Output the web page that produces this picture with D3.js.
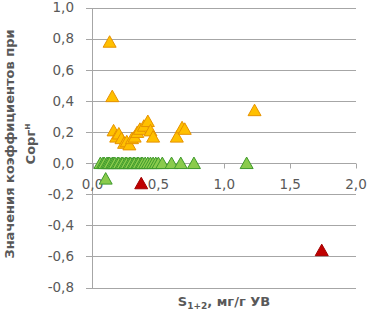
<!DOCTYPE html>
<html><head><meta charset="utf-8">
<script src="https://cdn.jsdelivr.net/npm/d3@7"></script>
<style>body{margin:0;background:#fff}svg{display:block}</style>
</head><body>
<script>
const yTicks = [1.0,0.8,0.6,0.4,0.2,0.0,-0.2,-0.4,-0.6,-0.8];
const xTicks = [0,0.5,1.0,1.5,2.0];
const greenX = [0.06,0.08,0.09,0.11,0.12,0.13,0.15,0.16,0.17,0.19,0.20,0.22,0.23,0.25,0.26,0.28,0.29,0.31,0.32,0.34,0.35,0.37,0.38,0.40,0.42,0.44,0.46,0.48,0.50,0.53,0.60,0.67,0.77,1.17,0.10];
const greenY = [0,0,0,0,0,0,0,0,0,0,0,0,0,0,0,0,0,0,0,0,0,0,0,0,0,0,0,0,0,0,0,0,0,0,-0.10];
const orangeX = [0.13,0.15,1.23,0.16,0.18,0.20,0.22,0.24,0.26,0.28,0.30,0.32,0.34,0.36,0.39,0.42,0.44,0.46,0.64,0.68,0.70];
const orangeY = [0.78,0.43,0.34,0.21,0.17,0.19,0.16,0.13,0.14,0.12,0.16,0.17,0.20,0.22,0.24,0.27,0.21,0.17,0.17,0.23,0.22];
const redX = [0.37,1.74];
const redY = [-0.13,-0.56];

const W=368,H=310;
const svg=d3.select("body").append("svg").attr("width",W).attr("height",H);
const x=d3.scaleLinear().domain([0,2]).range([92.5,356]);
const y=d3.scaleLinear().domain([-0.8,1.0]).range([287.5,7.5]);
const grid="#A6A6A6", txt="#595959";
const font="DejaVu Sans";
const py=v=>Math.round(y(v))+0.5;

svg.append("g").selectAll("line").data(yTicks).join("line")
  .attr("x1",86).attr("x2",356).attr("y1",d=>py(d)).attr("y2",d=>py(d))
  .attr("stroke",grid).attr("stroke-width",1);
svg.append("line").attr("x1",92.5).attr("x2",92.5).attr("y1",py(1.0)).attr("y2",py(-0.8)).attr("stroke",grid);
svg.append("g").selectAll("line").data(xTicks).join("line")
  .attr("x1",d=>Math.round(x(d))+0.5).attr("x2",d=>Math.round(x(d))+0.5)
  .attr("y1",py(0)).attr("y2",py(0)+5).attr("stroke",grid);
svg.append("g").selectAll("text").data(yTicks).join("text")
  .attr("x",74).attr("y",d=>y(d)).attr("dy","0.36em").attr("text-anchor","end")
  .attr("font-family",font).attr("font-size",13.5).attr("fill",txt)
  .text(d=>d3.format(".1f")(d).replace(".",",").replace("−","-"));
svg.append("g").selectAll("text").data(xTicks).join("text")
  .attr("x",d=>x(d)).attr("y",189).attr("text-anchor","middle")
  .attr("font-family",font).attr("font-size",13.5).attr("fill",txt)
  .text(d=>d3.format(".1f")(d).replace(".",","));

const tri="M0,-6L6.5,5.5L-6.5,5.5Z";
function series(xs,ys,fill,stroke){
  svg.append("g").selectAll("path").data(xs.map((v,i)=>[v,ys[i]])).join("path")
    .attr("d",tri).attr("transform",d=>`translate(${x(d[0])},${y(d[1])})`)
    .attr("fill",fill).attr("stroke",stroke).attr("stroke-width",1);
}
series(greenX,greenY,"#8ACB4C","#3F9A2C");
series(orangeX,orangeY,"#FFC000","#E69200");
series(redX,redY,"#C00000","#A00000");

const yt=svg.append("text").attr("transform","translate(14,144) rotate(-90)")
  .attr("text-anchor","middle").attr("font-family",font).attr("font-weight","bold")
  .attr("font-size",13).attr("fill",txt);
yt.append("tspan").attr("x",0).attr("y",0).text("Значения коэффициентов при");
const l2=yt.append("tspan").attr("x",0).attr("y",21);
l2.append("tspan").text("Сорг");
l2.append("tspan").attr("dy",-5).attr("font-size",9).text("н");

const xt=svg.append("text").attr("x",224).attr("y",306).attr("text-anchor","middle")
  .attr("font-family",font).attr("font-weight","bold").attr("font-size",13).attr("fill",txt);
xt.append("tspan").text("S");
xt.append("tspan").attr("font-size",9).attr("dy",3).text("1+2");
xt.append("tspan").attr("dy",-3).text(", мг/г УВ");
</script>
</body></html>
